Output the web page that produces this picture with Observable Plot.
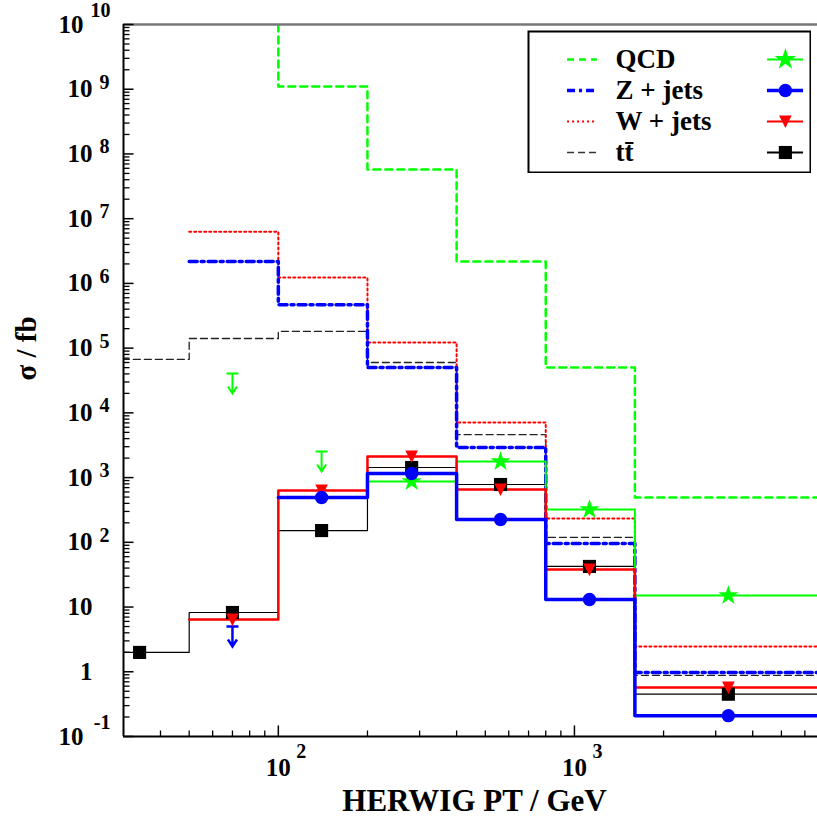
<!DOCTYPE html>
<html><head><meta charset="utf-8">
<script src="https://cdn.jsdelivr.net/npm/d3@7"></script>
<script src="https://cdn.jsdelivr.net/npm/@observablehq/plot@0.6"></script>
<style>
body{margin:0;background:#fff}
#wrap{position:relative;width:817px;height:817px;overflow:hidden}
#legend{position:absolute;left:527px;top:30px}
#wrap svg, #wrap svg text{font-family:"Liberation Serif", Tinos, "Times New Roman", "Nimbus Roman", "DejaVu Serif", serif !important;}
</style>
</head><body><div id="wrap"></div>
<script>
// ---- data ----
const binEdges   = [23, 50, 100, 200, 400, 800, 1600, 7000];
const binCenters = [34, 70, 140, 282, 563, 1124, 3310];

// total cross sections (dashed / dotted histograms)
const qcdTotal = [null, 3e10, 1.1e9, 5.75e7, 2.18e6, 5.0e4, 493];
const zTotal   = [null, 2.18e6, 4.7e5, 5.0e4, 2.92e3, 96, 0.975];
const wTotal   = [null, 6.3e6, 1.23e6, 1.22e5, 7.1e3, 233, 2.46];
const ttTotal  = [6.7e4, 1.41e5, 1.81e5, 6.0e4, 4.6e3, 119, 0.88];

// selected cross sections (solid histograms + markers)
const qcdSel = [null, null, null, 871, 1775, 321, 15.1];
const zSel   = [null, null, 493, 1156, 225, 13.1, 0.21];
const wSel   = [null, 6.4, 632, 2120, 655, 38, 0.57];
const ttSel  = [1.99, 8.24, 152, 1432, 782, 42.4, 0.45];

// upper limits
const qcdLimitX = [70, 140];
const qcdLimitY = [4.06e4, 2.53e3];
const zLimitX = [70];
const zLimitY = [5.0];

// axes
const yTickVals = [1e10, 1e9, 1e8, 1e7, 1e6, 1e5, 1e4, 1e3, 1e2, 10, 1, 0.1];
const yTickBase = ["10","10","10","10","10","10","10","10","10","10","1","10"];
const yTickExp  = ["10","9","8","7","6","5","4","3","2","","","-1"];
const xTickVals = [100, 1000];
const xTickExp  = ["2", "3"];
const xMinorVals = [40,50,60,70,80,90,200,300,400,500,600,700,800,900,2000,3000,4000,5000,6000];
const yMinorVals = [];
for (let e = -1; e < 10; e++) for (let k = 2; k <= 9; k++) yMinorVals.push(k * Math.pow(10, e));

const seriesNames  = ["QCD", "Z + jets", "W + jets", "tt\u0304"];
const seriesColors = ["#00ff00", "#0000ff", "#ff0000", "#000000"];

// ---- helpers ----
function steps(vals){
  return binEdges.map((e,i)=>({x:e, y: i < vals.length ? vals[i] : vals[vals.length-1]}));
}
function points(vals){
  return binCenters.map((c,i)=>({x:c, y:vals[i]})).filter(d=>d.y!=null);
}
const tickRight = {draw(ctx,size){const l=Math.sqrt(size/Math.PI);ctx.moveTo(0,0);ctx.lineTo(l,0);}};
const tickUp    = {draw(ctx,size){const l=Math.sqrt(size/Math.PI);ctx.moveTo(0,0);ctx.lineTo(0,-l);}};
const triDown   = {draw(ctx,size){const r=Math.sqrt(size/Math.PI);ctx.moveTo(-r,-r*0.95);ctx.lineTo(r,-r*0.95);ctx.lineTo(0,r*1.05);ctx.closePath();}};
const upperLimit= {draw(ctx,size){
  ctx.moveTo(-6,0);ctx.lineTo(6,0);
  ctx.moveTo(0,0);ctx.lineTo(0,20);
  ctx.moveTo(-4.5,13);ctx.lineTo(0,20);ctx.lineTo(4.5,13);
}};

const font = "Liberation Serif, Tinos, Times New Roman, DejaVu Serif, serif";
const T = {fontFamily: font, fontWeight: "bold", fill: "#000", lineAnchor: "middle"};
const yRows = yTickVals.map((v,i)=>({v, base:yTickBase[i], exp:yTickExp[i]}));
const yRowsLong = yRows.filter(d=>d.exp.length>=2);
const yRowsShort = yRows.filter(d=>d.exp.length===1);
const yRowsPlain = yRows.filter(d=>d.exp.length===0);

const lineOpts = {x:"x", y:"y", curve:"step-after", clip:true, fill:"none"};

const chart = Plot.plot({
  width: 817, height: 817,
  marginLeft: 123, marginRight: 0, marginTop: 24, marginBottom: 81,
  style: {fontFamily: font, background: "white", overflow: "visible"},
  x: {type:"log", domain:[30, 6620], axis:null},
  y: {type:"log", domain:[0.1, 1e10], axis:null},
  marks: [
    // total cross sections
    Plot.line(steps(ttTotal),  {...lineOpts, stroke:"#222", strokeWidth:1.3, strokeDasharray:"7,4"}),
    Plot.line(steps(wTotal),   {...lineOpts, stroke:"#ff0000", strokeWidth:2, strokeDasharray:"2,3"}),
    Plot.line(steps(zTotal),   {...lineOpts, stroke:"#0000ff", strokeWidth:3.5, strokeDasharray:"8,4,3,4"}),
    Plot.line(steps(qcdTotal), {...lineOpts, stroke:"#00ff00", strokeWidth:2.5, strokeDasharray:"7,5"}),
    // selected
    Plot.line(steps(ttSel),  {...lineOpts, stroke:"#000", strokeWidth:1.2}),
    Plot.line(steps(qcdSel), {...lineOpts, stroke:"#00ff00", strokeWidth:2}),
    Plot.line(steps(wSel),   {...lineOpts, stroke:"#ff0000", strokeWidth:2.5}),
    Plot.line(steps(zSel),   {...lineOpts, stroke:"#0000ff", strokeWidth:3.5}),
    // upper limits
    Plot.dot(qcdLimitX.map((x,i)=>({x, y:qcdLimitY[i]})), {x:"x", y:"y", symbol:upperLimit, r:1, stroke:"#00ff00", strokeWidth:2, fill:"none"}),
    Plot.dot(zLimitX.map((x,i)=>({x, y:zLimitY[i]})), {x:"x", y:"y", symbol:upperLimit, r:1, stroke:"#0000ff", strokeWidth:2.5, fill:"none"}),
    // markers
    Plot.dot(points(qcdSel), {x:"x", y:"y", symbol:"star", r:6.3, fill:"#00ff00", stroke:"none"}),
    Plot.dot(points(ttSel),  {x:"x", y:"y", symbol:"square", r:7.4, fill:"#000", stroke:"none"}),
    Plot.dot(points(wSel),   {x:"x", y:"y", symbol:triDown, r:6.3, fill:"#ff0000", stroke:"none"}),
    Plot.dot(points(zSel),   {x:"x", y:"y", r:6.7, fill:"#0000ff", stroke:"none"}),
    // frame lines
    Plot.ruleY([1e10], {stroke:"#777", strokeWidth:2.5}),
    Plot.ruleX([30], {stroke:"#000", strokeWidth:2}),
    Plot.ruleY([0.1], {stroke:"#000", strokeWidth:2}),
    // ticks
    Plot.dot(yTickVals, {y:d=>d, frameAnchor:"left", symbol:tickRight, r:10, stroke:"#000", strokeWidth:1.5, fill:"none"}),
    Plot.dot(yMinorVals, {y:d=>d, frameAnchor:"left", symbol:tickRight, r:6, stroke:"#000", strokeWidth:1.3, fill:"none"}),
    Plot.dot(xTickVals, {x:d=>d, frameAnchor:"bottom", symbol:tickUp, r:11, stroke:"#000", strokeWidth:1.5, fill:"none"}),
    Plot.dot(xMinorVals, {x:d=>d, frameAnchor:"bottom", symbol:tickUp, r:6, stroke:"#000", strokeWidth:1.3, fill:"none"}),
    // y tick labels
    Plot.text(yRowsLong, {...T, y:"v", text:"base", frameAnchor:"left", dx:83-123, textAnchor:"end", fontSize:25}),
    Plot.text(yRowsLong, {...T, y:"v", text:"exp", frameAnchor:"left", dx:110-123, dy:-14, textAnchor:"end", fontSize:20}),
    Plot.text(yRowsShort, {...T, y:"v", text:"base", frameAnchor:"left", dx:92-123, textAnchor:"end", fontSize:25}),
    Plot.text(yRowsShort, {...T, y:"v", text:"exp", frameAnchor:"left", dx:109-123, dy:-7, textAnchor:"end", fontSize:20}),
    Plot.text(yRowsPlain, {...T, y:"v", text:"base", frameAnchor:"left", dx:92-123, textAnchor:"end", fontSize:25}),
    // x tick labels
    Plot.text(xTickVals, {...T, x:d=>d, text:()=>"10", frameAnchor:"bottom", dy:31, fontSize:25}),
    Plot.text(xTickVals, {...T, x:d=>d, text:(d,i)=>xTickExp[i], frameAnchor:"bottom", dx:18, dy:15, textAnchor:"start", fontSize:20}),
    // axis titles
    Plot.text(["HERWIG PT / GeV"], {...T, text:d=>d, frameAnchor:"bottom", dx:4, dy:65, fontSize:31}),
    Plot.text(["\u03c3 / fb"], {...T, text:d=>d, frameAnchor:"left", dx:-97, rotate:-90, fontSize:29})
  ]
});

// ---- legend ----
const lgW = 284, lgH = 143;
const lgDash = ["7,5", "8,4,3,4", "2,3", "7,4"];
const lgWidth = [2.5, 3.5, 2, 1.3];
const lgSym = ["star", "circle", triDown, "square"];
const lgR = [6.8, 6.7, 6.3, 7.4];
const lgRows = seriesNames.map((n,i)=>({n, color: seriesColors[i], dash: lgDash[i], w: lgWidth[i], sym: lgSym[i], r: lgR[i]}));
const legendMarks = [Plot.frame({fill:"white", stroke:"#000", strokeWidth:2, inset:1})];
lgRows.forEach(d=>{
  legendMarks.push(Plot.ruleY([d.n], {y:x=>x, x1:0.141, x2:0.246, stroke:d.color==="#000000"?"#333":d.color, strokeWidth:d.w, strokeDasharray:d.dash}));
  legendMarks.push(Plot.ruleY([d.n], {y:x=>x, x1:0.845, x2:0.972, stroke:d.color, strokeWidth: d.n==="Z + jets"?3.5:2}));
  legendMarks.push(Plot.dot([d.n], {y:x=>x, x:()=>0.908, symbol:d.sym, r:d.r, fill:d.color, stroke:"none"}));
});
legendMarks.push(Plot.text(lgRows, {...T, y:"n", x:()=>0.310, text:"n", textAnchor:"start", fontSize:27}));
const legend = Plot.plot({
  width: lgW, height: lgH,
  marginLeft:0, marginRight:0, marginTop:0, marginBottom:0,
  style:{fontFamily: font, background:"white"},
  x:{domain:[0,1], range:[0,lgW], axis:null},
  y:{type:"point", domain:seriesNames, range:[28,122], padding:0, axis:null},
  marks: legendMarks
});
legend.id = "legend";

const wrap = document.getElementById("wrap");
wrap.appendChild(chart);
wrap.appendChild(legend);
</script>
</body></html>
